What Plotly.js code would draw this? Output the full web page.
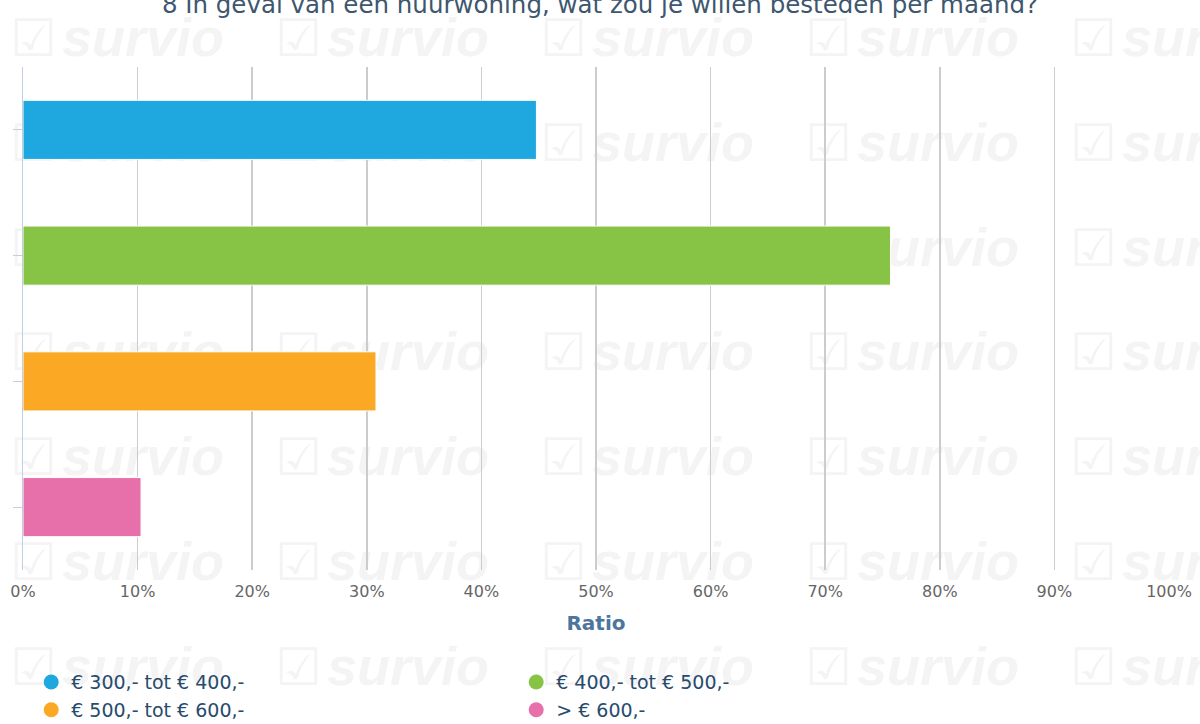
<!DOCTYPE html>
<html>
<head>
<meta charset="utf-8">
<script src="https://cdn.plot.ly/plotly-3.0.1.min.js"></script>
<style>
  html, body { margin: 0; padding: 0; background: #ffffff; }
  #wrap { position: relative; width: 1200px; height: 724px; overflow: hidden; }
  #wm { position: absolute; left: 0; top: 0; width: 1200px; height: 724px; z-index: 0; }
  #wm span { position: absolute; white-space: nowrap; color: #f4f4f4; line-height: 1; }
  #wm .box { font-family: "DejaVu Sans"; font-size: 52px; }
  #wm .word { font-family: "Liberation Sans"; font-weight: bold; font-style: italic; font-size: 54px; }
  #chart { position: absolute; left: 0; top: 0; width: 1200px; height: 724px; z-index: 1; }
</style>
</head>
<body>
<div id="wrap">
  <div id="wm"></div>
  <div id="chart"></div>
</div>
<script>
// ---- data ----
const categories = ["€ 300,- tot € 400,-", "€ 400,- tot € 500,-", "€ 500,- tot € 600,-", "> € 600,-"];
const ratios = [44.8, 75.7, 30.8, 10.3];
const colors = ["#1ea8df", "#87c446", "#fba924", "#e76faa"];
const xTicks = [0, 10, 20, 30, 40, 50, 60, 70, 80, 90, 100];
const titleText = "8 In geval van een huurwoning, wat zou je willen besteden per maand?";
const axisTitle = "Ratio";
const watermarkText = "survio";

// ---- watermark (background decoration) ----
const wm = document.getElementById('wm');
const wmCols = [10, 275, 540, 805, 1070];
const wmRows = [18, 123, 228, 332, 437, 542, 647];
wmRows.forEach(function (top) {
  wmCols.forEach(function (left) {
    const b = document.createElement('span');
    b.className = 'box';
    b.textContent = '☑';
    b.style.left = left + 'px';
    b.style.top = (top - 6) + 'px';
    wm.appendChild(b);
    const w = document.createElement('span');
    w.className = 'word';
    w.textContent = watermarkText;
    w.style.left = (left + 52) + 'px';
    w.style.top = (top - 8) + 'px';
    wm.appendChild(w);
  });
});

// ---- traces ----
const traces = [{
  type: 'bar',
  orientation: 'h',
  y: categories,
  x: ratios,
  marker: { color: colors, line: { color: '#ffffff', width: 1 } },
  showlegend: false,
  hoverinfo: 'x+y'
}];
categories.forEach(function (c, i) {
  traces.push({
    type: 'scatter',
    mode: 'markers',
    x: [null],
    y: [null],
    name: c,
    marker: { symbol: 'circle', size: 15, color: colors[i] },
    showlegend: true
  });
});

const layout = {
  width: 1200,
  height: 724,
  paper_bgcolor: 'rgba(0,0,0,0)',
  plot_bgcolor: 'rgba(0,0,0,0)',
  font: { family: 'DejaVu Sans', color: '#274b6d' },
  margin: { l: 23, r: 31, t: 67, b: 154, autoexpand: false },
  title: {
    text: titleText,
    font: { family: 'DejaVu Sans', size: 24.5, color: '#3e576f' },
    x: 0.5, xanchor: 'center',
    yref: 'container', y: 0.994, yanchor: 'middle'
  },
  bargap: 0.53,
  xaxis: {
    range: [0, 100],
    tickvals: xTicks,
    ticktext: xTicks.map(function (v) { return v + '%'; }),
    showgrid: true,
    gridcolor: '#cccccc',
    gridwidth: 1.5,
    zeroline: false,
    showline: false,
    ticks: '',
    automargin: false,
    ticklabelstandoff: 10,
    tickfont: { family: 'DejaVu Sans', size: 16, color: '#666666' },
    title: {
      text: '<b>' + axisTitle + '</b>',
      font: { family: 'DejaVu Sans', size: 20, color: '#4d759e' },
      standoff: 15
    },
    fixedrange: true
  },
  yaxis: {
    type: 'category',
    categoryorder: 'array',
    categoryarray: categories,
    autorange: 'reversed',
    showticklabels: false,
    showgrid: false,
    zeroline: false,
    showline: true,
    linecolor: '#c0d0e0',
    linewidth: 1,
    ticks: 'outside',
    ticklen: 9,
    tickcolor: '#c0d0e0',
    automargin: false,
    fixedrange: true
  },
  legend: {
    orientation: 'h',
    xref: 'container', x: 0.026, xanchor: 'left',
    yref: 'container', y: 0.084, yanchor: 'top',
    entrywidth: 440,
    entrywidthmode: 'pixels',
    font: { family: 'DejaVu Sans', size: 19, color: '#274b6d' },
    itemwidth: 30,
    tracegroupgap: 0,
    bgcolor: 'rgba(0,0,0,0)'
  },
  showlegend: true
};

Plotly.newPlot('chart', traces, layout, { displayModeBar: false, staticPlot: true });
</script>
</body>
</html>
